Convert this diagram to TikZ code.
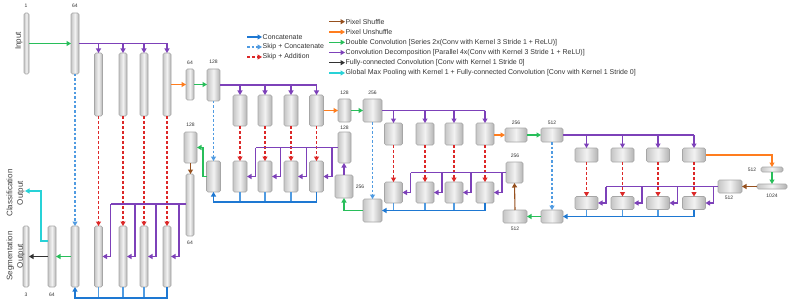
\documentclass[tikz,border=0pt]{standalone}
\usepackage{fontspec}
\setmainfont{Liberation Sans}
\usetikzlibrary{arrows.meta,calc}
\definecolor{cblue}{RGB}{30,120,210}
\definecolor{clblue}{RGB}{80,155,225}
\definecolor{cred}{RGB}{220,40,40}
\definecolor{cpurp}{RGB}{125,65,185}
\definecolor{corange}{RGB}{255,125,30}
\definecolor{cgreen}{RGB}{40,190,90}
\definecolor{cbrown}{RGB}{150,80,30}
\definecolor{ccyan}{RGB}{40,210,215}
\definecolor{cblack}{RGB}{50,50,50}
\begin{document}
\begin{tikzpicture}[x=1pt,y=-1pt,
  blk/.style={draw=gray!70,line width=0.6pt,rounded corners=1.5pt,left color=gray!45,right color=gray!60,middle color=gray!10,inner sep=0,outer sep=0},
  arr/.style={-{Triangle[length=4.5pt,width=5pt]}},
  ln/.style={line width=1.1pt},
  pl/.style={ln,draw=cpurp,fill=none},
  bl/.style={ln,draw=cblue},
  blv/.style={ln,draw=clblue},
  gr/.style={ln,draw=cgreen},
  orl/.style={ln,draw=corange},
  brl/.style={ln,draw=cbrown},
  cyl/.style={ln,draw=ccyan},
  bkl/.style={ln,draw=cblack},
  skipc/.style={ln,draw=clblue,dash pattern=on 2.5pt off 2pt},
  skipa/.style={ln,draw=cred,dash pattern=on 3pt off 2pt},
  dim/.style={font=\fontsize{5}{6}\selectfont,text=gray!40!black,inner sep=0},
  lgt/.style={font=\fontsize{7}{8}\selectfont,text=black!80,anchor=west,inner sep=0.5pt},
  side/.style={font=\fontsize{8}{10.5}\selectfont,text=black!75,rotate=90,align=center,inner sep=0}]
\useasboundingbox (0,0) rectangle (793,305);
% blocks
\foreach \n/\x/\y/\w/\h in {
  in/26.5/43.5/5/61, e1a/75/43.5/8/61,
  e1b/98.5/84.5/8/63, e1c/123/84.5/8/63, e1d/144/84.5/8/63, e1e/167/84.5/8/63,
  p1/190/84.5/8/31, e2a/213.5/85/13/32,
  e2b/240/110.5/14/31, e2c/265/110.5/14/31, e2d/291/110.5/14/31, e2e/316.5/110.5/14/31,
  p2/344.5/110.5/13/23, e3a/372.5/110.5/19/23,
  e3b/393.5/134/18/22, e3c/425/134/18/22, e3d/454/134/18/22, e3e/485/134/18/22,
  p3/516/135/22/14, e4a/552/135/22/14,
  e4b/586.5/155/23/14, e4c/622.5/155/23/14, e4d/658/155/23/14, e4e/694/155/23/14,
  p4/772/169.5/22/5, bn/772/186.5/30/5, d4a/730/186.5/24/13,
  d4b/586.5/203/23/13, d4c/622.5/203/23/13, d4d/658/203/23/13, d4e/694/203/23/13,
  d4f/552/216.5/22/13, d4g/515/216.5/24/13,
  d3a/514.5/172.5/17/21,
  d3b/393.5/192.5/18/21, d3c/425/192.5/18/21, d3d/454/192.5/18/21, d3e/485/192.5/18/21,
  d3f/372.5/210.5/19/23, d3g/344/186.5/18/23,
  d2a/344.5/147.5/13/31,
  d2b/240/176.5/14/31, d2c/265/176.5/14/31, d2d/291/176.5/14/31, d2e/316.5/176.5/14/31,
  d2f/213.5/176.5/14/31, d2g/190.5/147.5/13/31,
  d1a/190/205/8/62,
  d1b/98.5/256.5/8/61, d1c/123/256.5/8/61, d1d/144/256.5/8/61, d1e/167/256.5/8/61,
  d1f/75/256.5/8/61, d1g/52/256.5/8/61, out/26/256.5/6/61}
  {\node[blk,minimum width=\w pt,minimum height=\h pt] (\n) at (\x,\y) {};}
% dimension labels
\node[dim] (lin) at (26,6) {1};
\node[dim] (le1a) at (75,6) {64};
\node[dim] (lp1) at (190,63) {64};
\node[dim] (le2a) at (213.5,62) {128};
\node[dim] (lp2) at (344.5,93) {128};
\node[dim] (le3a) at (372.5,93) {256};
\node[dim] (lp3) at (516,123) {256};
\node[dim] (le4a) at (552,123) {512};
\node[dim] (lp4) at (752,170) {512};
\node[dim] (lbn) at (772,196) {1024};
\node[dim] (ld4a) at (729,198) {512};
\node[dim] (ld4g) at (515,229) {512};
\node[dim] (ld3a) at (515,156) {256};
\node[dim] (ld3g) at (360,187) {256};
\node[dim] (ld2a) at (344.5,128) {128};
\node[dim] (ld2g) at (190.5,125) {128};
\node[dim] (ld1a) at (190,243) {64};
\node[dim] (ld1g) at (52,295) {64};
\node[dim] (lout) at (26,295) {3};
% side texts
\node[side] (tin) at (19,41) {Input};
\node[side] (tcls) at (15.5,193) {Classification\\Output};
\node[side] (tseg) at (15.5,256) {Segmentation\\Output};
% encoder path
\draw[gr,arr] (in.east) -- (e1a.east -| e1a.west);
\draw[pl] (e1a.east) -- (e1a.east -| e1e.north);
\foreach \k in {b,c,d,e} {\draw[pl,arr] (e1a.east -| e1\k.north) -- (e1\k.north);}
\draw[orl,arr] (e1e.east) -- (p1.west);
\draw[gr,arr] (p1.east) -- (p1.east -| e2a.west);
\draw[pl] (e2a.east) -- (e2a.east -| e2e.north);
\foreach \k in {b,c,d,e} {\draw[pl,arr] (e2a.east -| e2\k.north) -- (e2\k.north);}
\draw[orl,arr] (e2e.east) -- (p2.west);
\draw[gr,arr] (p2.east) -- (e3a.west);
\draw[pl] (e3a.east) -- (e3a.east -| e3e.north);
\foreach \k in {b,c,d,e} {\draw[pl,arr] (e3a.east -| e3\k.north) -- (e3\k.north);}
\draw[orl,arr] (e3e.east |- p3.west) -- (p3.west);
\draw[gr,arr] (p3.east) -- (e4a.west);
\draw[pl] (e4a.east) -- (e4a.east -| e4e.north);
\foreach \k in {b,c,d,e} {\draw[pl,arr] (e4a.east -| e4\k.north) -- (e4\k.north);}
\draw[orl,arr] (e4e.east) -| (p4.north);
\draw[gr,arr] (p4.south) -- (bn.north);
\draw[brl,arr] (bn.west) -- (d4a.east);
% skips
\foreach \l in {1,2,3,4} {\foreach \k in {b,c,d,e} {\draw[skipa,arr] (e\l\k.south) -- (d\l\k.north);}}
\draw[skipc,arr] (e1a.south) -- (d1f.north);
\draw[skipc,arr] (e2a.south) -- (d2f.north);
\draw[skipc,arr] (e3a.south) -- (d3f.north);
\draw[skipc,arr] (e4a.south) -- (d4f.north);
% decoder level 4
\foreach \k in {b,c,d,e} {\coordinate (d4\k x) at ($(d4\k.east)+(8,0)$);}
\draw[pl] (d4a.west) -- (d4bx |- d4a.west);
\foreach \k in {b,c,d,e} {\draw[pl,arr] (d4\k x |- d4a.west) |- (d4\k.east);}
\foreach \k in {b,c,d} {\draw[blv] (d4\k.south) -- (d4\k.south |- d4f.east);}
\draw[bl,arr] (d4e.south) |- (d4f.east);
\draw[gr,arr] (d4f.west) -- (d4g.east);
\draw[brl,arr] (d4g.north) -- (d3a.south);
% decoder level 3
\foreach \k in {b,c,d,e} {\coordinate (d3\k x) at ($(d3\k.east)+(8,0)$);}
\draw[pl] (d3a.west) -- (d3bx |- d3a.west);
\foreach \k in {b,c,d,e} {\draw[pl,arr] (d3\k x |- d3a.west) |- (d3\k.east);}
\foreach \k in {b,c,d} {\draw[blv] (d3\k.south) -- (d3\k.south |- d3f.east);}
\draw[bl,arr] (d3e.south) |- (d3f.east);
\draw[gr,arr] (d3f.west) -| (d3g.south);
\draw[pl,arr] (d3g.north) -- (d3g.north |- d2a.south);
% decoder level 2
\foreach \k in {b,c,d,e} {\coordinate (d2\k x) at ($(d2\k.east)+(8.5,0)$);}
\draw[pl] (d2a.west) -- (d2bx |- d2a.west);
\foreach \k in {b,c,d,e} {\draw[pl,arr] (d2\k x |- d2a.west) |- (d2\k.east);}
\coordinate (b2) at ($(d2e.south)+(0,10)$);
\foreach \k in {b,c,d} {\draw[blv] (d2\k.south) -- (d2\k.south |- b2);}
\draw[bl,arr] (d2e.south) -- (b2) -| (d2f.south);
\coordinate (g2) at ($(d2f.west)+(-3.5,0)$);
\draw[gr,arr] (d2f.west) -- (g2) |- (d2g.east);
\draw[brl,arr] (d2g.south) -- (d2g.south |- d1a.north);
% decoder level 1
\coordinate (p1bus) at ($(d1a.west)+(0,-1)$);
\foreach \k in {b,c,d,e} {\coordinate (d1\k x) at ($(d1\k.east)+(8,0)$);}
\draw[pl] (p1bus) -- (d1bx |- p1bus);
\foreach \k in {b,c,d,e} {\draw[pl,arr] (d1\k x |- p1bus) |- (d1\k.east);}
\coordinate (b1) at ($(d1e.south)+(0,11)$);
\foreach \k in {b,c,d} {\draw[blv] (d1\k.south) -- (d1\k.south |- b1);}
\draw[bl,arr] (d1e.south) -- (b1) -| (d1f.south);
\draw[gr,arr] (d1f.west) -- (d1g.east);
\draw[bkl,arr] (d1g.west) -- (out.east);
\coordinate (cy1) at ($(d1g.north west)+(0,15)$);
\coordinate (clsout) at (25,191);
\draw[cyl,arr] (cy1) -- ++(-7,0) |- (clsout);
% legend
\coordinate (lgAs) at (247,37);
\node[lgt] (lgA) at (262,37) {Concatenate};
\draw[bl,arr] (lgAs) -- (lgA.west);
\coordinate (lgBs) at (247,47);
\node[lgt] (lgB) at (262,47) {Skip + Concatenate};
\draw[skipc,arr] (lgBs) -- (lgB.west);
\coordinate (lgCs) at (247,57);
\node[lgt] (lgC) at (262,57) {Skip + Addition};
\draw[skipa,arr] (lgCs) -- (lgC.west);
\coordinate (lgDs) at (329,21.7);
\node[lgt] (lgD) at (345,21.7) {Pixel Shuffle};
\draw[brl,arr] (lgDs) -- (lgD.west);
\coordinate (lgEs) at (329,32);
\node[lgt] (lgE) at (345,32) {Pixel Unshuffle};
\draw[orl,arr] (lgEs) -- (lgE.west);
\coordinate (lgFs) at (329,42.3);
\node[lgt] (lgF) at (345,42.3) {Double Convolution [Series 2x(Conv with Kernel 3 Stride 1 + ReLU)]};
\draw[gr,arr] (lgFs) -- (lgF.west);
\coordinate (lgGs) at (329,52.5);
\node[lgt] (lgG) at (345,52.5) {Convolution Decomposition [Parallel 4x(Conv with Kernel 3 Stride 1 + ReLU)]};
\draw[pl,arr] (lgGs) -- (lgG.west);
\coordinate (lgHs) at (329,62.7);
\node[lgt] (lgH) at (345,62.7) {Fully-connected Convolution [Conv with Kernel 1 Stride 0]};
\draw[bkl,arr] (lgHs) -- (lgH.west);
\coordinate (lgIs) at (329,73);
\node[lgt] (lgI) at (345,73) {Global Max Pooling with Kernel 1 + Fully-connected Convolution [Conv with Kernel 1 Stride 0]};
\draw[cyl,arr] (lgIs) -- (lgI.west);
\end{tikzpicture}
\end{document}
